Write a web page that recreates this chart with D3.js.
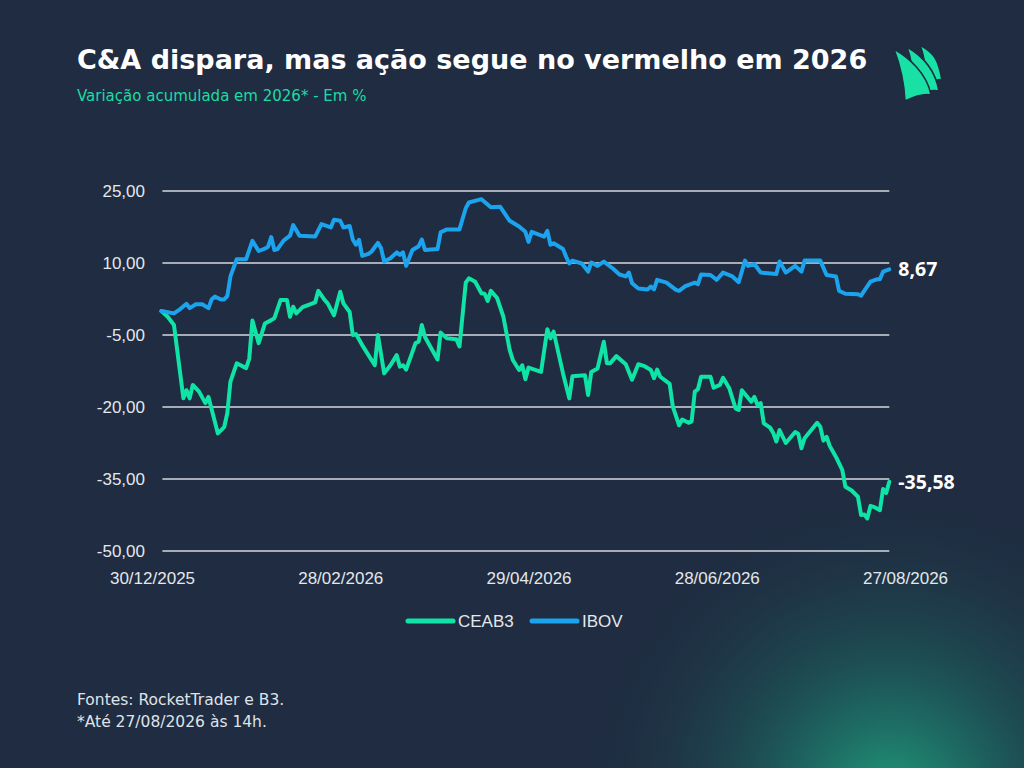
<!DOCTYPE html>
<html>
<head>
<meta charset="utf-8">
<script src="https://cdn.jsdelivr.net/npm/d3@7/dist/d3.min.js"></script>
<style>
  html, body { margin: 0; padding: 0; background: #1f2c41; }
  svg { display: block; }
</style>
</head>
<body>
<div id="chart"></div>
<script>
// Data (accumulated % change in 2026)
const seriesNames = ["CEAB3", "IBOV"];
const xTickDates = ["2025-12-30", "2026-02-28", "2026-04-29", "2026-06-28", "2026-08-27"];
const yTicks = [-50, -35, -20, -5, 10, 25];

const ceabDates = [
  "2026-01-02","2026-01-04","2026-01-06","2026-01-09","2026-01-10","2026-01-11","2026-01-12","2026-01-14",
  "2026-01-16","2026-01-17","2026-01-20","2026-01-22","2026-01-23","2026-01-24","2026-01-26","2026-01-29",
  "2026-01-30","2026-01-31","2026-02-02","2026-02-04","2026-02-06","2026-02-07","2026-02-09","2026-02-11",
  "2026-02-12","2026-02-13","2026-02-14","2026-02-16","2026-02-20","2026-02-21","2026-02-23","2026-02-24",
  "2026-02-26","2026-02-28","2026-03-01","2026-03-03","2026-03-04","2026-03-05","2026-03-07","2026-03-11",
  "2026-03-12","2026-03-14","2026-03-16","2026-03-18","2026-03-19","2026-03-20","2026-03-21","2026-03-24",
  "2026-03-25","2026-03-26","2026-03-27","2026-03-31","2026-04-01","2026-04-03","2026-04-06","2026-04-07",
  "2026-04-09","2026-04-10","2026-04-12","2026-04-14","2026-04-15","2026-04-16","2026-04-17","2026-04-19",
  "2026-04-21","2026-04-22","2026-04-23","2026-04-24","2026-04-26","2026-04-27","2026-04-28","2026-04-29",
  "2026-05-03","2026-05-05","2026-05-06","2026-05-07","2026-05-10","2026-05-12","2026-05-13","2026-05-17",
  "2026-05-18","2026-05-19","2026-05-21","2026-05-23","2026-05-24","2026-05-25","2026-05-27","2026-05-30",
  "2026-06-01","2026-06-03","2026-06-05","2026-06-07","2026-06-08","2026-06-09","2026-06-10","2026-06-13",
  "2026-06-14","2026-06-16","2026-06-17","2026-06-19","2026-06-20","2026-06-21","2026-06-22","2026-06-23",
  "2026-06-26","2026-06-27","2026-06-29","2026-06-30","2026-07-02","2026-07-03","2026-07-04","2026-07-05",
  "2026-07-06","2026-07-09","2026-07-10","2026-07-11","2026-07-12","2026-07-13","2026-07-15","2026-07-16",
  "2026-07-17","2026-07-18","2026-07-20","2026-07-23","2026-07-24","2026-07-25","2026-07-26","2026-07-30",
  "2026-07-31","2026-08-01","2026-08-02","2026-08-03","2026-08-05","2026-08-07","2026-08-08","2026-08-10",
  "2026-08-12","2026-08-13","2026-08-14","2026-08-15","2026-08-16","2026-08-17","2026-08-19","2026-08-20",
  "2026-08-21","2026-08-22"
];
const ceabValues = [
  0.0, -1.2, -2.9, -18.2, -16.5, -18.2, -15.4, -16.8,
  -19.2, -17.9, -25.5, -24.2, -21.3, -14.7, -10.9, -11.9,
  -9.9, -2.0, -6.7, -2.6, -1.9, -1.5, 2.3, 2.3,
  -1.2, 0.9, -0.5, 0.8, 1.8, 4.2, 2.3, 1.6,
  -0.9, 4.0, 1.6, -0.2, -5.0, -4.8, -7.1, -11.3,
  -5.0, -13.0, -11.3, -9.2, -11.6, -11.3, -12.2, -6.7,
  -6.4, -2.9, -5.4, -10.1, -4.5, -5.7, -5.9, -7.4,
  5.9, 6.8, 6.1, 3.7, 3.6, 2.1, 4.2, 2.7,
  -1.2, -4.7, -8.1, -10.2, -12.3, -11.3, -14.2, -11.8,
  -12.7, -3.8, -5.7, -4.3, -13.0, -18.2, -13.6, -13.4,
  -17.5, -12.7, -12.0, -6.4, -10.9, -10.9, -9.4, -11.1,
  -14.3, -11.1, -11.5, -12.3, -14.0, -12.2, -13.7, -15.2,
  -19.9, -23.8, -22.6, -23.3, -23.0, -16.8, -16.3, -13.7,
  -13.7, -16.0, -15.4, -13.9, -16.1, -18.2, -20.3, -20.6,
  -16.5, -18.9, -17.9, -19.6, -19.2, -23.4, -24.3, -25.4,
  -27.2, -24.8, -27.5, -25.2, -25.6, -28.6, -26.5, -23.3,
  -24.1, -27.0, -26.2, -28.1, -30.4, -33.1, -36.6, -37.4,
  -38.7, -42.5, -42.4, -43.2, -40.6, -40.8, -41.5, -37.1,
  -37.9, -35.58
];

const ibovDates = [
  "2026-01-02","2026-01-06","2026-01-08","2026-01-10","2026-01-11","2026-01-13","2026-01-15","2026-01-17",
  "2026-01-18","2026-01-19","2026-01-21","2026-01-22","2026-01-23","2026-01-24","2026-01-26","2026-01-29",
  "2026-01-31","2026-02-02","2026-02-04","2026-02-05","2026-02-06","2026-02-07","2026-02-08","2026-02-10",
  "2026-02-12","2026-02-13","2026-02-15","2026-02-20","2026-02-22","2026-02-25","2026-02-26","2026-02-28",
  "2026-03-01","2026-03-03","2026-03-04","2026-03-05","2026-03-06","2026-03-07","2026-03-09","2026-03-10",
  "2026-03-12","2026-03-13","2026-03-14","2026-03-16","2026-03-18","2026-03-19","2026-03-20","2026-03-21",
  "2026-03-23","2026-03-25","2026-03-26","2026-03-27","2026-03-31","2026-04-01","2026-04-03","2026-04-07",
  "2026-04-09","2026-04-10","2026-04-14","2026-04-17","2026-04-20","2026-04-23","2026-04-26","2026-04-28",
  "2026-04-29","2026-04-30","2026-05-04","2026-05-05","2026-05-06","2026-05-07","2026-05-10","2026-05-11",
  "2026-05-12","2026-05-13","2026-05-16","2026-05-18","2026-05-19","2026-05-21","2026-05-23","2026-05-26",
  "2026-05-28","2026-05-30","2026-05-31","2026-06-01","2026-06-03","2026-06-06","2026-06-07","2026-06-08",
  "2026-06-09","2026-06-12","2026-06-15","2026-06-16","2026-06-18","2026-06-21","2026-06-22","2026-06-23",
  "2026-06-26","2026-06-28","2026-06-30","2026-07-03","2026-07-05","2026-07-07","2026-07-08","2026-07-10",
  "2026-07-12","2026-07-17","2026-07-18","2026-07-20","2026-07-23","2026-07-25","2026-07-26","2026-07-31",
  "2026-08-02","2026-08-05","2026-08-06","2026-08-08","2026-08-12","2026-08-13","2026-08-14","2026-08-16",
  "2026-08-18","2026-08-19","2026-08-20","2026-08-22"
];
const ibovValues = [
  0.0, -0.5, 0.4, 1.5, 0.6, 1.4, 1.4, 0.6,
  2.4, 3.0, 2.4, 2.4, 3.1, 7.2, 10.8, 10.8,
  14.6, 12.5, 13.0, 13.4, 15.4, 12.7, 12.9, 14.7,
  15.7, 17.9, 15.7, 15.5, 18.1, 17.4, 19.0, 18.8,
  17.4, 17.7, 14.9, 13.8, 14.8, 11.5, 11.9, 12.4,
  14.2, 13.1, 10.3, 11.0, 12.2, 11.7, 12.2, 9.4,
  12.7, 13.5, 14.9, 12.7, 12.9, 16.4, 17.0, 17.0,
  21.4, 22.6, 23.3, 21.6, 21.7, 18.8, 17.6, 16.5,
  14.4, 16.5, 15.5, 16.7, 13.8, 14.1, 12.9, 11.3,
  9.9, 10.5, 9.9, 8.2, 10.1, 9.4, 10.3, 8.8,
  7.6, 7.2, 8.0, 5.8, 4.7, 4.5, 5.1, 4.5,
  6.5, 5.9, 4.4, 4.2, 5.2, 5.9, 5.6, 7.6,
  7.5, 6.5, 8.0, 7.2, 6.0, 10.5, 9.4, 9.8,
  8.0, 7.7, 10.3, 8.0, 9.4, 8.2, 10.5, 10.5,
  7.5, 7.2, 4.2, 3.6, 3.5, 3.2, 4.2, 6.1,
  6.6, 6.6, 8.2, 8.67
];

const width = 1024;
const height = 768;
const bg = "#1f2c41";
const colors = { CEAB3: "#0fe3a6", IBOV: "#1ba3ee" };

const parseDate = d3.timeParse("%Y-%m-%d");
const ptBR = d3.formatLocale({ decimal: ",", thousands: ".", grouping: [3], currency: ["R$", ""], minus: "-" });
const fmt = ptBR.format(".2f");

const series = [
  { name: "CEAB3", points: ceabDates.map((d, i) => ({ date: parseDate(d), value: ceabValues[i] })) },
  { name: "IBOV", points: ibovDates.map((d, i) => ({ date: parseDate(d), value: ibovValues[i] })) }
];

const svg = d3.select("#chart")
  .append("svg")
  .attr("width", width)
  .attr("height", height);

// Background with green glow bottom right
const defs = svg.append("defs");
const glow = defs.append("radialGradient")
  .attr("id", "glow")
  .attr("gradientUnits", "userSpaceOnUse")
  .attr("cx", 890).attr("cy", 800).attr("r", 320);
glow.append("stop").attr("offset", "0%").attr("stop-color", "#20b98a").attr("stop-opacity", 0.8);
glow.append("stop").attr("offset", "45%").attr("stop-color", "#1a8a75").attr("stop-opacity", 0.35);
glow.append("stop").attr("offset", "100%").attr("stop-color", bg).attr("stop-opacity", 0);

svg.append("rect").attr("width", width).attr("height", height).attr("fill", bg);
svg.append("rect").attr("width", width).attr("height", height).attr("fill", "url(#glow)");

// Scales
const x = d3.scaleTime()
  .domain([parseDate(xTickDates[0]), parseDate(xTickDates[xTickDates.length - 1])])
  .range([152, 905]);

const y = d3.scaleLinear()
  .domain([-50, 25])
  .range([551, 191]);

const allDates = series.flatMap(s => s.points.map(p => p.date));
const gridX0 = x(d3.min(allDates)) + 1;
const gridX1 = x(d3.max(allDates));

// Grid lines
svg.append("g")
  .selectAll("line")
  .data(yTicks)
  .join("line")
  .attr("x1", gridX0)
  .attr("x2", gridX1)
  .attr("y1", d => y(d))
  .attr("y2", d => y(d))
  .attr("stroke", "#d4d8de")
  .attr("stroke-width", 1.4);

// Y axis
const yAxis = svg.append("g")
  .attr("transform", "translate(145,0)")
  .call(d3.axisLeft(y).tickValues(yTicks).tickSize(0).tickPadding(0).tickFormat(fmt));
yAxis.select(".domain").remove();
yAxis.selectAll("text")
  .attr("fill", "#e4e7eb")
  .style("font-family", "'Liberation Sans', Arial, sans-serif")
  .style("font-size", "17px");

// X axis
const xAxis = svg.append("g")
  .attr("transform", "translate(0,572)")
  .call(d3.axisBottom(x)
    .tickValues(xTickDates.map(parseDate))
    .tickSize(0)
    .tickPadding(0)
    .tickFormat(d3.timeFormat("%d/%m/%Y")));
xAxis.select(".domain").remove();
xAxis.selectAll("text")
  .attr("dy", "0.71em")
  .attr("fill", "#e4e7eb")
  .style("font-family", "'Liberation Sans', Arial, sans-serif")
  .style("font-size", "17px");

// Lines
const line = d3.line()
  .x(d => x(d.date))
  .y(d => y(d.value));

svg.append("g")
  .selectAll("path")
  .data(series)
  .join("path")
  .attr("d", d => line(d.points))
  .attr("fill", "none")
  .attr("stroke", d => colors[d.name])
  .attr("stroke-width", 4)
  .attr("stroke-linejoin", "round")
  .attr("stroke-linecap", "round");

// End value labels
series.forEach(s => {
  const last = s.points[s.points.length - 1];
  svg.append("text")
    .attr("x", x(last.date) + 9)
    .attr("y", y(last.value))
    .attr("dy", "0.35em")
    .attr("fill", "#ffffff")
    .style("font-family", "'Open Sans', sans-serif")
    .style("font-weight", "700")
    .style("font-size", "19.5px")
    .text(fmt(last.value));
});

// Legend
const legend = svg.append("g").attr("transform", "translate(408,621)");
const legendX = { CEAB3: 0, IBOV: 124 };
seriesNames.forEach(name => {
  const g = legend.append("g").attr("transform", `translate(${legendX[name]},0)`);
  g.append("line")
    .attr("x1", 0).attr("x2", 45)
    .attr("y1", 0).attr("y2", 0)
    .attr("stroke", colors[name])
    .attr("stroke-width", 5)
    .attr("stroke-linecap", "round");
  g.append("text")
    .attr("x", 50)
    .attr("y", 0)
    .attr("dy", "0.35em")
    .attr("fill", "#e4e7eb")
    .style("font-family", "'Liberation Sans', Arial, sans-serif")
    .style("font-size", "17px")
    .text(name);
});

// Title and subtitle
svg.append("text")
  .attr("x", 77)
  .attr("y", 69)
  .attr("fill", "#ffffff")
  .style("font-family", "'DejaVu Sans', sans-serif")
  .style("font-weight", "700")
  .style("font-size", "27px")
  .text("C&A dispara, mas ação segue no vermelho em 2026");

svg.append("text")
  .attr("x", 77)
  .attr("y", 101)
  .attr("fill", "#1bdca6")
  .style("font-family", "'DejaVu Sans', sans-serif")
  .style("font-size", "15px")
  .text("Variação acumulada em 2026* - Em %");

// Footer
const footer = ["Fontes: RocketTrader e B3.", "*Até 27/08/2026 às 14h."];
svg.append("g")
  .selectAll("text")
  .data(footer)
  .join("text")
  .attr("x", 77)
  .attr("y", (d, i) => 705 + i * 22)
  .attr("fill", "#dfe3e8")
  .style("font-family", "'DejaVu Sans', sans-serif")
  .style("font-size", "15.5px")
  .text(d => d);

// Logo (three sails)
const sails = [
  { t: [920, 45], r: [942, 80], l: [925, 86] },
  { t: [907, 47], r: [939, 91], l: [913, 96] },
  { t: [894, 49], r: [931, 95], l: [905, 101] }
];
const logo = svg.append("g");
sails.forEach(s => {
  const [tx, ty] = s.t, [rx, ry] = s.r, [lx, ly] = s.l;
  const p = d3.path();
  p.moveTo(tx, ty);
  p.bezierCurveTo(tx + 14, ty + 8, rx - 4, ry - 22, rx, ry);
  p.quadraticCurveTo((rx + lx) / 2 + 4, ry - 2, lx, ly);
  p.bezierCurveTo(lx - 1, ly - 22, tx + 6, ty + 16, tx, ty);
  p.closePath();
  logo.append("path")
    .attr("d", p.toString())
    .attr("fill", "#19e0a4")
    .attr("stroke", bg)
    .attr("stroke-width", 1.6);
});
</script>
</body>
</html>
